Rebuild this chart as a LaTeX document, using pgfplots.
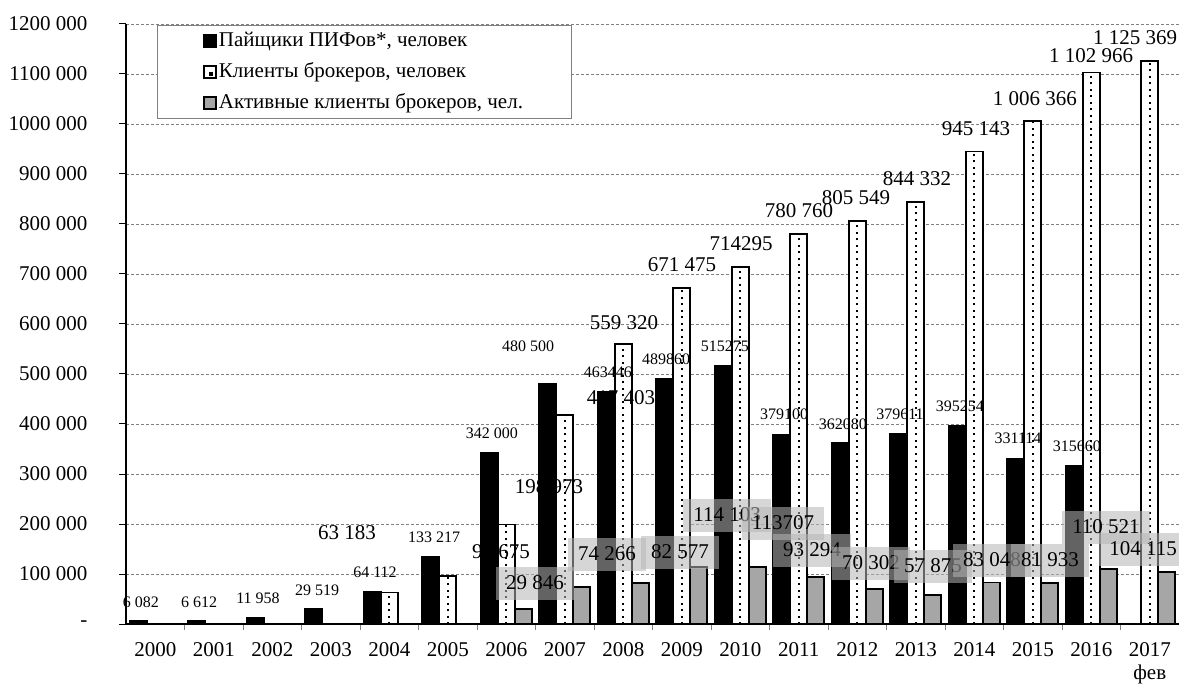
\documentclass[border=0pt]{standalone}
\usepackage{pgfplots}
\pgfplotsset{compat=1.18}
\usepackage{fontspec}
\setmainfont{Liberation Serif}
\newcommand\fA{\fontsize{21}{25}\selectfont}
\newcommand\fX{\fontsize{21}{23}\selectfont}
\newcommand\fB{\fontsize{16}{19}\selectfont}
\definecolor{bargray}{HTML}{A6A6A6}
\definecolor{boxgray}{HTML}{B5B5B5}
\begin{document}
\begin{tikzpicture}
\begin{axis}[
  scale only axis, width=1053pt, height=600pt,
  xmin=-0.5, xmax=17.5, ymin=0, ymax=1200000,
  scaled y ticks=false,
  axis lines*=left, axis line style={-, black, line width=1.2pt},
  clip=false,
  xtick={0,...,17},
  xticklabels={2000,2001,2002,2003,2004,2005,2006,2007,2008,2009,2010,2011,2012,2013,2014,2015,2016,{2017\\фев}},
  xticklabel style={font=\fX, align=center, yshift=-8pt},
  every major x tick/.append style={draw=none},
  minor xtick={0.5,1.5,...,16.5},
  minor tick length=6pt,
  every minor tick/.append style={gray, line width=1pt},
  ytick={0,100000,200000,300000,400000,500000,600000,700000,800000,900000,1000000,1100000,1200000},
  yticklabels={-,100 000,200 000,300 000,400 000,500 000,600 000,700 000,800 000,900 000,1000 000,1100 000,1200 000},
  yticklabel style={font=\fA, xshift=-28pt},
  major tick length=7pt, tick align=outside,
  every major y tick/.append style={black, line width=1pt},
  ymajorgrids, major grid style={dash pattern=on 3pt off 2pt, gray, line width=0.8pt},
  legend style={at={(rel axis cs:0.0294,0.998)}, anchor=north west, draw=gray, line width=1pt, fill=white, font=\fA, inner xsep=46pt, inner ysep=0pt, row sep=0pt, nodes={inner xsep=2pt, inner ysep=5.5pt, text height=15pt, text depth=5pt}},
  legend cell align=left,
]
\addplot[ybar, bar width=17pt, bar shift=-17pt, fill=black, draw=black, line width=1.8pt,
  legend image code/.code={\draw[black, fill=black, line width=1.5pt] (0pt,-6pt) rectangle (12pt,6pt);}]
coordinates {(0,6082)(1,6612)(2,11958)(3,29519)(4,64112)(5,133217)(6,342000)(7,480500)(8,463446)(9,489860)(10,515275)(11,379100)(12,362080)(13,379611)(14,395254)(15,331114)(16,315660)};
\addlegendentry{Пайщики ПИФов*, человек}
\addplot[ybar, bar width=17pt, bar shift=0pt, fill=white, draw=black, line width=1.8pt,
  legend image code/.code={\draw[black, fill=white, line width=1.5pt] (0pt,-6pt) rectangle (12pt,6pt); \fill[black] (6pt,-3pt) rectangle (8pt,-1pt);}]
coordinates {(4,63183)(5,96675)(6,198973)(7,417403)(8,559320)(9,671475)(10,714295)(11,780760)(12,805549)(13,844332)(14,945143)(15,1006366)(16,1102966)(17,1125369)};
\addlegendentry{Клиенты брокеров, человек}
\addplot[ycomb, mark=none, black, line width=1.8pt, dash pattern=on 2pt off 4.5pt, forget plot]
coordinates {(4,63183)(5,96675)(6,198973)(7,417403)(8,559320)(9,671475)(10,714295)(11,780760)(12,805549)(13,844332)(14,945143)(15,1006366)(16,1102966)(17,1125369)};
\addplot[ybar, bar width=17pt, bar shift=17pt, fill=bargray, draw=black, line width=1.8pt,
  legend image code/.code={\draw[black, fill=bargray, line width=1.5pt] (0pt,-6pt) rectangle (12pt,6pt);}]
coordinates {(6,29846)(7,74266)(8,82577)(9,114103)(10,113707)(11,93294)(12,70302)(13,57875)(14,83048)(15,81933)(16,110521)(17,104115)};
\addlegendentry{Активные клиенты брокеров, чел.}

% labels of the first series
\begin{scope}[every node/.style={font=\fB, inner sep=0pt}]
\node at (axis cs:-0.244,44000) {6 082};
\node at (axis cs:0.748,44000) {6 612};
\node at (axis cs:1.756,52000) {11 958};
\node at (axis cs:2.765,68000) {29 519};
\node at (axis cs:3.756,104000) {64 112};
\node at (axis cs:4.765,174000) {133 217};
\node at (axis cs:5.756,382000) {342 000};
\node at (axis cs:6.372,556000) {480 500};
\node at (axis cs:7.739,504000) {463446};
\node at (axis cs:8.731,530000) {489860};
\node at (axis cs:9.739,556000) {515275};
\node at (axis cs:10.748,420000) {379100};
\node at (axis cs:11.756,400000) {362080};
\node at (axis cs:12.731,420000) {379611};
\node at (axis cs:13.756,436000) {395254};
\node at (axis cs:14.748,372000) {331114};
\node at (axis cs:15.756,356000) {315660};
\end{scope}
% labels of the second series
\begin{scope}[every node/.style={font=\fA, inner sep=0pt}]
\node at (axis cs:3.278,182000) {63 183};
\node at (axis cs:5.910,144000) {96 675};
\node at (axis cs:6.731,274000) {198 973};
\node at (axis cs:7.962,452000) {417 403};
\node at (axis cs:8.013,602000) {559 320};
\node at (axis cs:9.004,718000) {671 475};
\node at (axis cs:10.013,760000) {714295};
\node at (axis cs:11.004,826000) {780 760};
\node at (axis cs:11.979,852000) {805 549};
\node at (axis cs:13.021,890000) {844 332};
\node at (axis cs:14.030,990000) {945 143};
\node at (axis cs:15.038,1050000) {1 006 366};
\node at (axis cs:15.996,1136000) {1 102 966};
\node at (axis cs:16.748,1172000) {1 125 369};
\end{scope}
% labels of the third series
\begin{scope}[every node/.style={font=\fA, fill=boxgray, fill opacity=0.55, text opacity=1, inner xsep=10pt, inner ysep=0pt, minimum height=33pt}]
\node at (axis cs:6.491,82000) {29 846};
\node at (axis cs:7.722,140000) {74 266};
\node at (axis cs:8.970,144000) {82 577};
\node at (axis cs:9.774,218000) {114 103};
\node at (axis cs:10.731,202000) {113707};
\node at (axis cs:11.227,148000) {93 294};
\node at (axis cs:12.235,122000) {70 302};
\node at (axis cs:13.295,116000) {57 875};
\node at (axis cs:14.303,128000) {83 048};
\node at (axis cs:15.295,128000) {81 933};
\node at (axis cs:16.252,194000) {110 521};
\node at (axis cs:16.885,150000) {104 115};
\end{scope}
\coordinate (ll) at (rel axis cs:0,0);
\coordinate (ur) at (rel axis cs:1,1);
\end{axis}
\pgfresetboundingbox
\path ([shift={(-126pt,-60pt)}]ll) rectangle ([shift={(0pt,24pt)}]ur);
\end{tikzpicture}
\end{document}
